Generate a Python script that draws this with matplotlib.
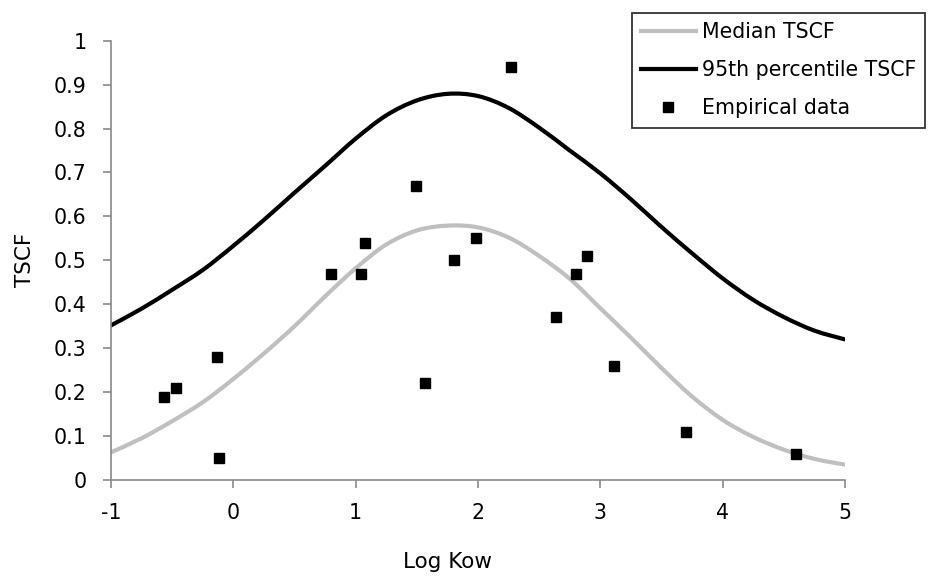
import matplotlib
matplotlib.use('Agg')
import matplotlib.pyplot as plt
from matplotlib.path import Path
from matplotlib.patches import PathPatch
from matplotlib.lines import Line2D

# curves
log_kow_curve = [-1.0, -0.75, -0.5, -0.25, 0.0, 0.25, 0.5, 0.75, 1.0, 1.25, 1.5, 1.75,
                 2.0, 2.25, 2.5, 2.75, 3.0, 3.25, 3.5, 3.75, 4.0, 4.25, 4.5, 4.75, 5.0]
median_tscf = [0.063, 0.095, 0.134, 0.177, 0.230, 0.288, 0.350, 0.418, 0.482, 0.536, 0.568, 0.579,
               0.575, 0.552, 0.510, 0.458, 0.391, 0.324, 0.255, 0.190, 0.137, 0.098, 0.069, 0.048, 0.035]
p95_tscf = [0.352, 0.390, 0.433, 0.478, 0.533, 0.592, 0.654, 0.715, 0.777, 0.830, 0.864, 0.879,
            0.874, 0.847, 0.802, 0.750, 0.698, 0.639, 0.576, 0.516, 0.459, 0.410, 0.371, 0.340, 0.320]

# empirical points
emp_x = [-0.57, -0.47, -0.13, -0.12, 0.80, 1.04, 1.08, 1.49, 1.57, 1.80, 1.98, 2.27,
         2.64, 2.80, 2.89, 3.11, 3.70, 4.60]
emp_y = [0.19, 0.21, 0.28, 0.05, 0.47, 0.47, 0.54, 0.67, 0.22, 0.50, 0.55, 0.94,
         0.37, 0.47, 0.51, 0.26, 0.11, 0.06]

x_ticks = [-1, 0, 1, 2, 3, 4, 5]
y_ticks = [0, 0.1, 0.2, 0.3, 0.4, 0.5, 0.6, 0.7, 0.8, 0.9, 1]
y_tick_labels = ['0', '0.1', '0.2', '0.3', '0.4', '0.5', '0.6', '0.7', '0.8', '0.9', '1']

plt.rcParams['font.family'] = ['DejaVu Sans']
fs = 14.8
axis_grey = '#898989'


def smooth_path(xs, ys):
    # excel-like smoothed line: bezier segments through the points
    verts = [(xs[0], ys[0])]
    codes = [Path.MOVETO]
    n = len(xs)
    for i in range(n - 1):
        x0, y0 = (xs[i - 1], ys[i - 1]) if i > 0 else (xs[i], ys[i])
        x1, y1 = xs[i], ys[i]
        x2, y2 = xs[i + 1], ys[i + 1]
        x3, y3 = (xs[i + 2], ys[i + 2]) if i + 2 < n else (x2, y2)
        verts += [(x1 + (x2 - x0) / 6, y1 + (y2 - y0) / 6),
                  (x2 - (x3 - x1) / 6, y2 - (y3 - y1) / 6),
                  (x2, y2)]
        codes += [Path.CURVE4] * 3
    return Path(verts, codes)


fig = plt.figure(figsize=(9.29, 5.77), dpi=100)
ax = fig.add_axes([111 / 929, 1 - 480 / 577, (845 - 111) / 929, (480 - 40.7) / 577])

ax.add_patch(PathPatch(smooth_path(log_kow_curve, median_tscf), fill=False,
                       edgecolor='#bfbfbf', lw=3.0, capstyle='round', zorder=2))
ax.add_patch(PathPatch(smooth_path(log_kow_curve, p95_tscf), fill=False,
                       edgecolor='black', lw=3.0, capstyle='round', zorder=2))
pts, = ax.plot(emp_x, emp_y, ls='none', marker='s', ms=7.8, color='black', zorder=3)

ax.set_xlim(-1, 5)
ax.set_ylim(0, 1)
ax.set_xticks(x_ticks)
ax.set_xticklabels([str(v) for v in x_ticks])
ax.set_yticks(y_ticks)
ax.set_yticklabels(y_tick_labels)

for side in ['top', 'right']:
    ax.spines[side].set_visible(False)
for side in ['left', 'bottom']:
    ax.spines[side].set_color(axis_grey)
    ax.spines[side].set_linewidth(1.2)
ax.tick_params(axis='both', direction='out', length=5.5, width=1.2, color=axis_grey,
               labelsize=fs, labelcolor='black')
ax.tick_params(axis='y', pad=12)
ax.tick_params(axis='x', pad=11)

ax.set_xlabel('Log Kow', fontsize=15.5)
ax.set_ylabel('TSCF', fontsize=15.5)
ax.xaxis.set_label_coords(0.458, -0.165)
ax.yaxis.set_label_coords(-0.104, 0.5)

handles = [Line2D([], [], color='#bfbfbf', lw=3.0),
           Line2D([], [], color='black', lw=3.0),
           pts]
labels = ['Median TSCF', '95th percentile TSCF', 'Empirical data']
leg = ax.legend(handles, labels, loc='upper left', bbox_to_anchor=(632 / 929, 1 - 13 / 577),
                bbox_transform=fig.transFigure, fontsize=fs, frameon=True, fancybox=False,
                edgecolor='black', handlelength=2.64, handletextpad=0.3,
                labelspacing=0.88, borderpad=0.45, borderaxespad=0, markerscale=0.9)
leg.get_frame().set_linewidth(1.3)

fig.savefig('out.png', dpi=100)
